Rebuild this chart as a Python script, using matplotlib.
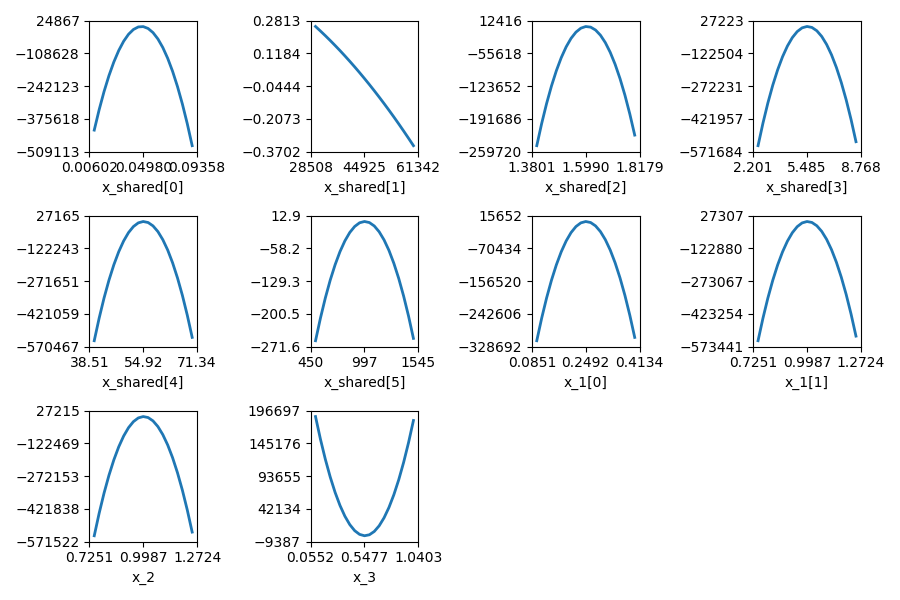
import numpy as np
import matplotlib
matplotlib.use("Agg")
import matplotlib.pyplot as plt

# variable names, one per panel
names = ['x_shared[0]', 'x_shared[1]', 'x_shared[2]', 'x_shared[3]', 'x_shared[4]',
         'x_shared[5]', 'x_1[0]', 'x_1[1]', 'x_2', 'x_3']

# curves (x, objective), 21 points each
x_s0 = [0.01000, 0.01398, 0.01796, 0.02194, 0.02592, 0.02990, 0.03388, 0.03786, 0.04184, 0.04582, 0.04980,
        0.05378, 0.05776, 0.06174, 0.06572, 0.06970, 0.07368, 0.07766, 0.08164, 0.08562, 0.08960]
y_s0 = [-421518, -338572, -264695, -199878, -144125, -97436, -59811, -31251, -11755, -1324, 42,
        -7656, -24418, -50246, -85138, -129092, -182113, -244198, -315345, -395567, -484841]

x_s1 = [30000, 31492.5, 32985, 34477.5, 35970, 37462.5, 38955, 40447.5, 41940, 43432.5, 44925,
        46417.5, 47910, 49402.5, 50895, 52387.5, 53880, 55372.5, 56865, 58357.5, 59850]
y_s1 = [0.2517, 0.2292, 0.2060, 0.1820, 0.1572, 0.1318, 0.1055, 0.0785, 0.0508, 0.0223, -0.0070,
        -0.0369, -0.0677, -0.0992, -0.1314, -0.1644, -0.1981, -0.2326, -0.2679, -0.3039, -0.3406]

x_s2 = [1.4000, 1.4199, 1.4398, 1.4597, 1.4796, 1.4995, 1.5194, 1.5393, 1.5592, 1.5791, 1.5990,
        1.6189, 1.6388, 1.6587, 1.6786, 1.6985, 1.7184, 1.7383, 1.7582, 1.7781, 1.7980]
y_s2 = [-247350, -201355, -160088, -123546, -91731, -64641, -42278, -24640, -11727, -3542, -81,
        -1347, -7339, -18057, -33500, -53669, -78563, -108187, -142532, -181605, -225409]

x_s3 = [2.5000, 2.7985, 3.0970, 3.3955, 3.6940, 3.9925, 4.2910, 4.5895, 4.8880, 5.1865, 5.4850,
        5.7835, 6.0820, 6.3805, 6.6790, 6.9775, 7.2760, 7.5745, 7.8730, 8.1715, 8.4700]
y_s3 = [-544461, -441831, -349911, -268705, -198200, -138402, -89313, -50934, -23261, -6296, -38,
        -4488, -19646, -45510, -82083, -129365, -187348, -256045, -335449, -425559, -526378]

x_s4 = [40.000, 41.4925, 42.985, 44.4775, 45.970, 47.4625, 48.955, 50.4475, 51.940, 53.4325, 54.925,
        56.4175, 57.910, 59.4025, 60.895, 62.3875, 63.880, 65.3725, 66.865, 68.3575, 69.850]
y_s4 = [-543302, -440760, -348946, -267830, -197431, -137746, -88777, -50518, -22975, -6144, -27,
        -4623, -19932, -45954, -82690, -130138, -188300, -257183, -336760, -427075, -528075]

x_s5 = [500, 549.75, 599.5, 649.25, 699, 748.75, 798.5, 848.25, 898, 947.75, 997.5,
        1047.25, 1097, 1146.75, 1196.5, 1246.25, 1296, 1345.75, 1395.5, 1445.25, 1495]
y_s5 = [-258.7, -209.8, -166.0, -127.3, -93.8, -65.3, -42.0, -23.8, -10.8, -2.8, 0.0,
        -2.3, -9.7, -22.3, -40.0, -62.7, -90.7, -123.7, -161.9, -205.1, -253.6]

x_10 = [0.100000, 0.114925, 0.129850, 0.144775, 0.159700, 0.174625, 0.189550, 0.204475, 0.219400, 0.234325, 0.249250,
        0.264175, 0.279100, 0.294025, 0.308950, 0.323875, 0.338800, 0.353725, 0.368650, 0.383575, 0.398500]
y_10 = [-313040, -253953, -201046, -154317, -113748, -79358, -51142, -29099, -13231, -3536, -15,
        -2668, -11494, -26494, -47667, -75016, -108536, -148232, -194104, -246137, -304352]

x_11 = [0.750000, 0.774875, 0.799750, 0.824625, 0.849500, 0.874375, 0.899250, 0.924125, 0.949000, 0.973875, 0.998750,
        1.023625, 1.048500, 1.073375, 1.098250, 1.123125, 1.148000, 1.172875, 1.197750, 1.222625, 1.247500]
y_11 = [-546134, -443335, -351237, -269853, -199177, -139216, -89959, -51416, -23583, -6462, -52,
        -4352, -19364, -45086, -81519, -128665, -186515, -255080, -334360, -424346, -525045]

x_2 = [0.750000, 0.774875, 0.799750, 0.824625, 0.849500, 0.874375, 0.899250, 0.924125, 0.949000, 0.973875, 0.998750,
       1.023625, 1.048500, 1.073375, 1.098250, 1.123125, 1.148000, 1.172875, 1.197750, 1.222625, 1.247500]
y_2 = [-544307, -441657, -349716, -268492, -197989, -138203, -89135, -50782, -23148, -6232, -33,
       -4552, -19788, -45742, -82413, -129802, -187906, -256729, -336277, -426532, -527508]

x_3 = [0.100000, 0.144775, 0.189550, 0.234325, 0.279100, 0.323875, 0.368650, 0.413425, 0.458200, 0.502975, 0.547750,
       0.592525, 0.637300, 0.682075, 0.726850, 0.771625, 0.816400, 0.861175, 0.905950, 0.950725, 0.995500]
y_3 = [187330, 152019, 120385, 92437, 68176, 47599, 30708, 17502, 7980, 2144, -7,
       1527, 6746, 15650, 28239, 44513, 64472, 88117, 115450, 146460, 181158]

xs = [x_s0, x_s1, x_s2, x_s3, x_s4, x_s5, x_10, x_11, x_2, x_3]
ys = [y_s0, y_s1, y_s2, y_s3, y_s4, y_s5, y_10, y_11, y_2, y_3]

# tick labels as printed on the reference
xtick_labels = [
    ['0.00602', '0.04980', '0.09358'],
    ['28508', '44925', '61342'],
    ['1.3801', '1.5990', '1.8179'],
    ['2.201', '5.485', '8.768'],
    ['38.51', '54.92', '71.34'],
    ['450', '997', '1545'],
    ['0.0851', '0.2492', '0.4134'],
    ['0.7251', '0.9987', '1.2724'],
    ['0.7251', '0.9987', '1.2724'],
    ['0.0552', '0.5477', '1.0403'],
]
ytick_labels = [
    ['-509113', '-375618', '-242123', '-108628', '24867'],
    ['-0.3702', '-0.2073', '-0.0444', '0.1184', '0.2813'],
    ['-259720', '-191686', '-123652', '-55618', '12416'],
    ['-571684', '-421957', '-272231', '-122504', '27223'],
    ['-570467', '-421059', '-271651', '-122243', '27165'],
    ['-271.6', '-200.5', '-129.3', '-58.2', '12.9'],
    ['-328692', '-242606', '-156520', '-70434', '15652'],
    ['-573441', '-423254', '-273067', '-122880', '27307'],
    ['-571522', '-421838', '-272153', '-122469', '27215'],
    ['-9387', '42134', '93655', '145176', '196697'],
]

fig, axes = plt.subplots(3, 4, figsize=(9, 6), dpi=100)
axes = axes.ravel()

for i, ax in enumerate(axes):
    if i >= len(names):
        ax.axis('off')
        continue
    ax.plot(xs[i], ys[i], color='C0', linewidth=2)
    xt = [float(s) for s in xtick_labels[i]]
    yt = [float(s) for s in ytick_labels[i]]
    ax.set_xlim(xt[0], xt[-1])
    ax.set_ylim(yt[0], yt[-1])
    ax.set_xticks(xt)
    ax.set_xticklabels([s.replace('-', '\u2212') for s in xtick_labels[i]])
    ax.set_yticks(yt)
    ax.set_yticklabels([s.replace('-', '\u2212') for s in ytick_labels[i]])
    ax.set_xlabel(names[i])

plt.tight_layout()
plt.savefig('out.png')
